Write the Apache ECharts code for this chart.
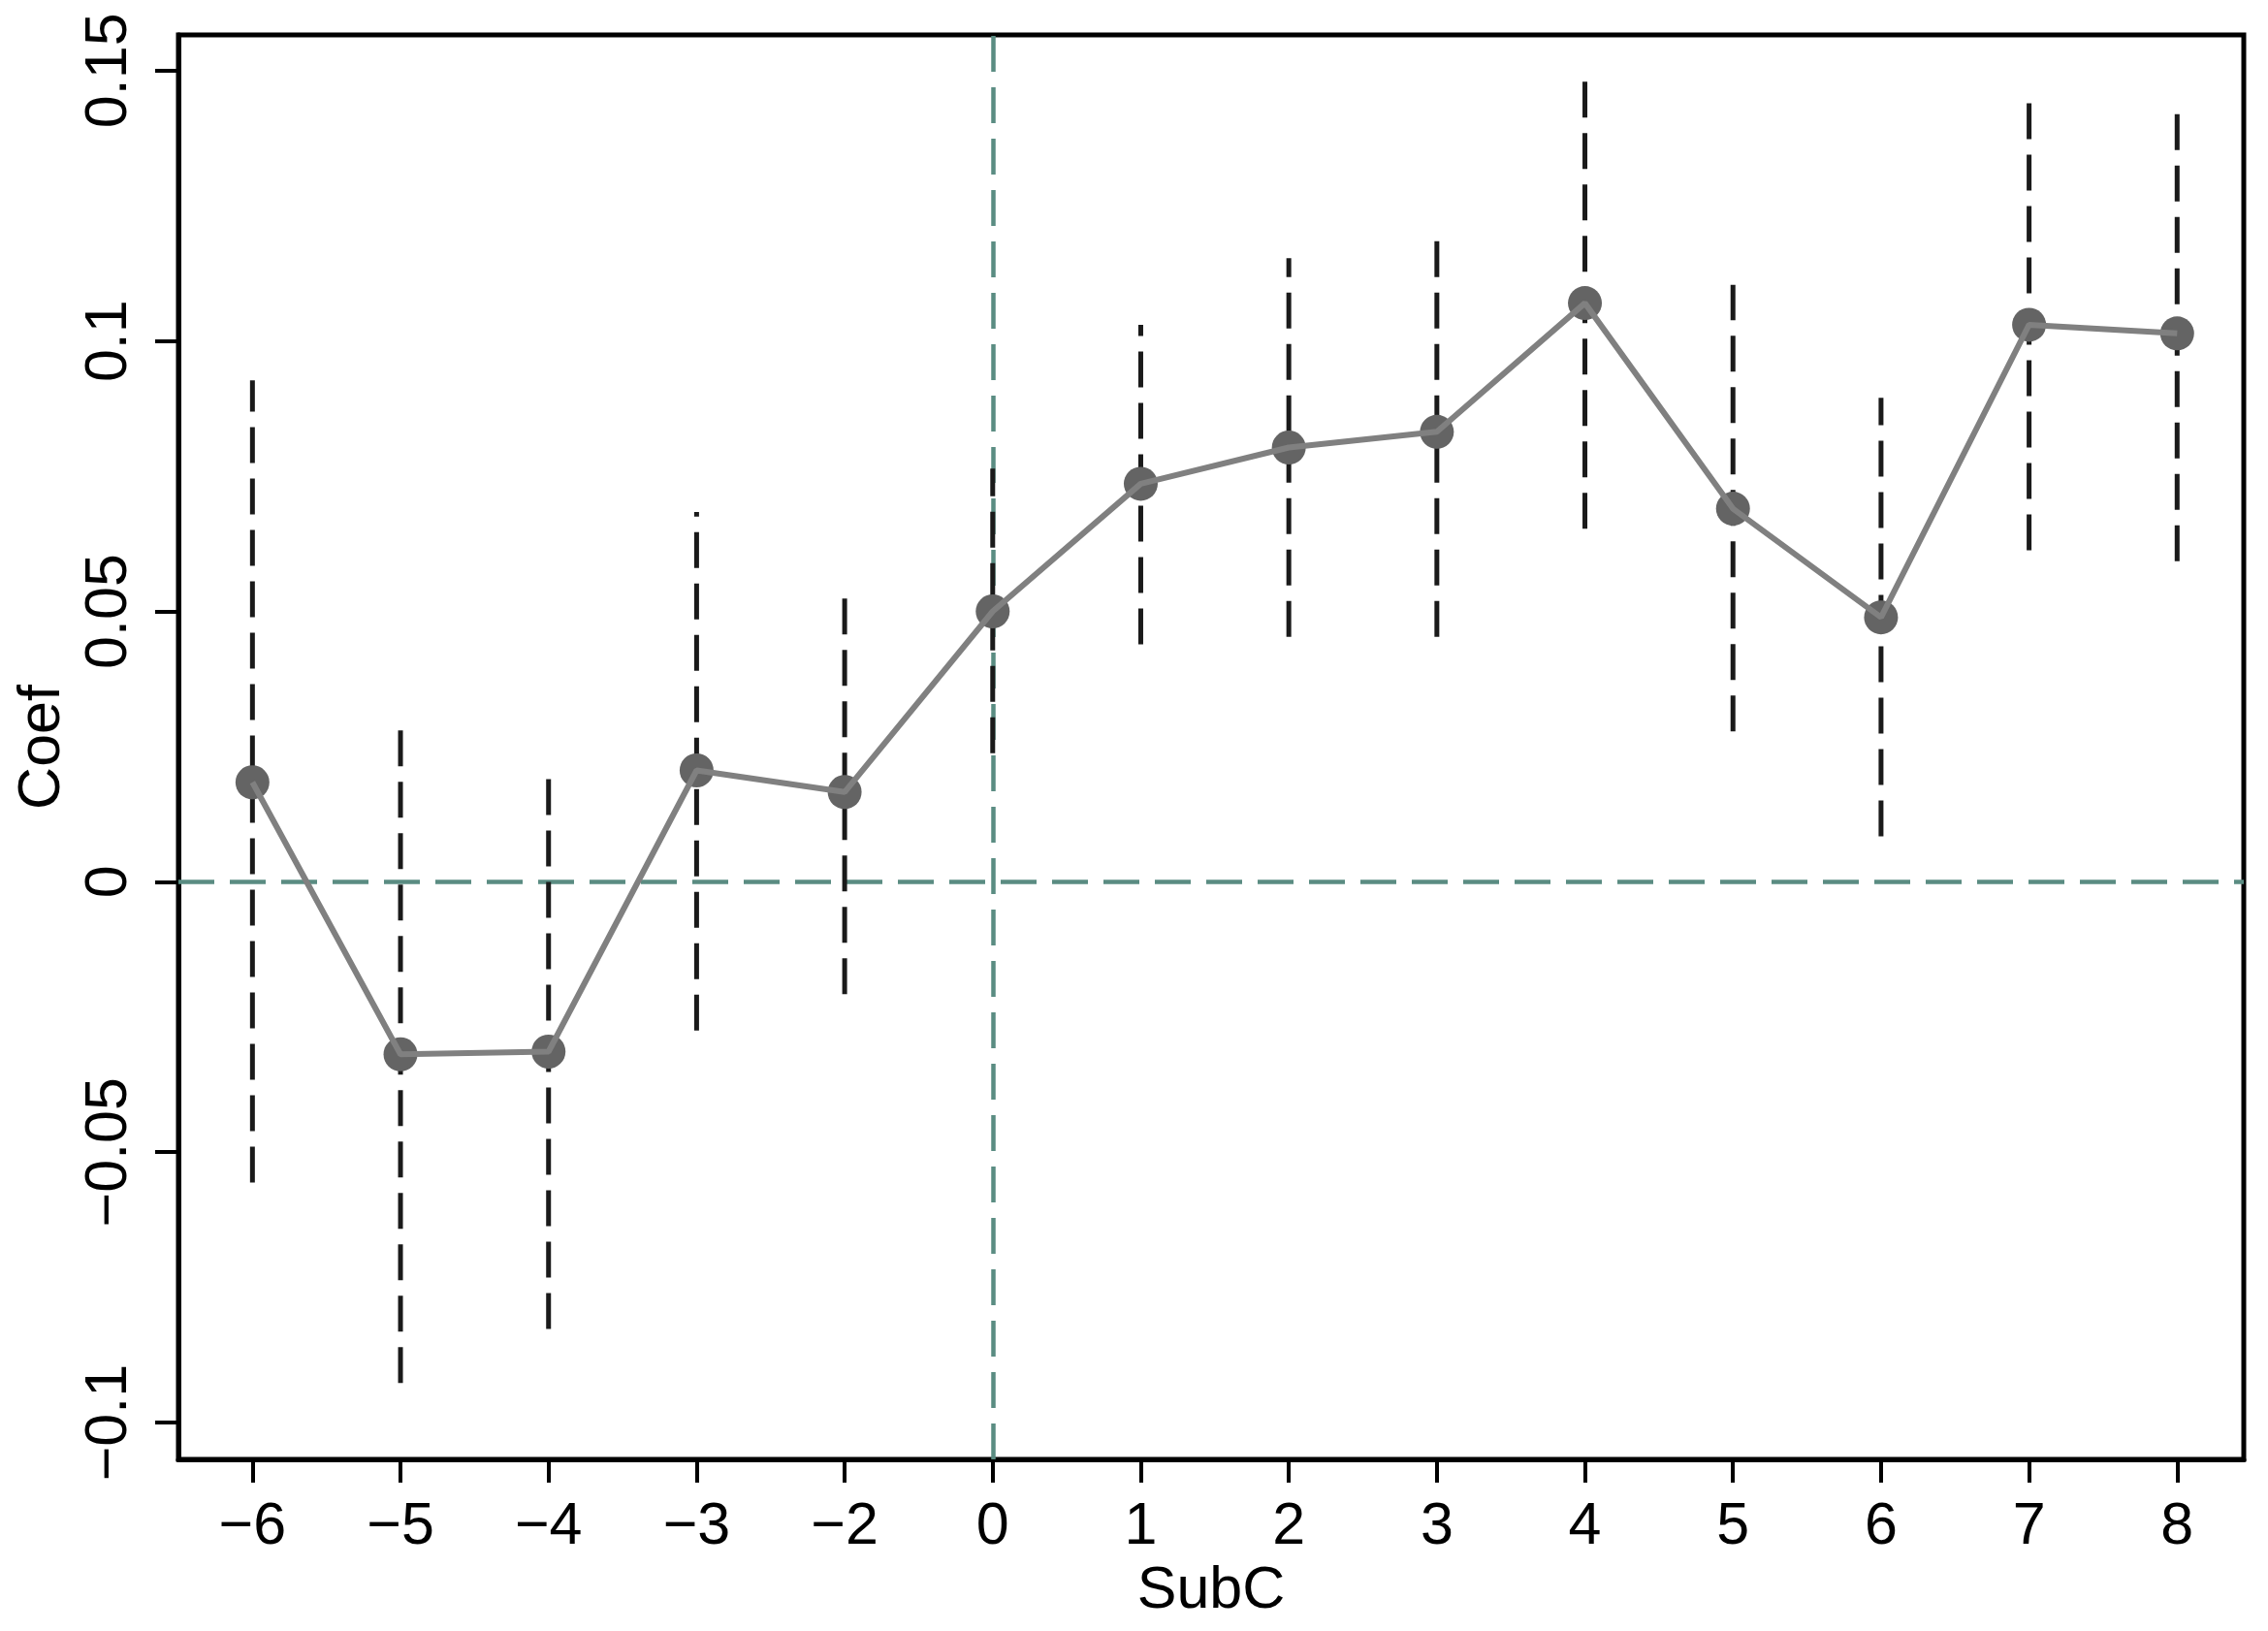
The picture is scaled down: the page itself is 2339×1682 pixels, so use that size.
<!DOCTYPE html>
<html>
<head>
<meta charset="utf-8">
<script src="https://cdn.jsdelivr.net/npm/echarts@6/dist/echarts.min.js"></script>
<style>
  html, body { margin: 0; padding: 0; background: #fff; }
  #chart { width: 2339px; height: 1682px; }
</style>
</head>
<body>
<div id="chart"></div>
<script>
// event-time categories (no -1)
var xLabels = ['\u22126', '\u22125', '\u22124', '\u22123', '\u22122', '0', '1', '2', '3', '4', '5', '6', '7', '8'];
// point estimates
var coef = [0.0184, -0.0319, -0.0314, 0.0206, 0.0166, 0.0500, 0.0736, 0.0803, 0.0832, 0.1070, 0.0690, 0.0489, 0.1030, 0.1014];
// confidence interval bounds
var ciLow = [-0.0556, -0.0927, -0.0827, -0.0275, -0.0208, 0.0238, 0.0439, 0.0453, 0.0453, 0.0653, 0.0278, 0.0084, 0.0613, 0.0593];
var ciHigh = [0.0927, 0.0286, 0.0195, 0.0684, 0.0532, 0.0764, 0.1030, 0.1153, 0.1186, 0.1483, 0.1104, 0.0895, 0.1444, 0.1424];
// y ticks
var yTicks = [-0.1, -0.05, 0, 0.05, 0.1, 0.15];
var yTickLabels = ['\u22120.1', '\u22120.05', '0', '0.05', '0.1', '0.15'];

var FONT = '"Liberation Sans", Arial, Helvetica, sans-serif';
var teal = '#5a8c82';

var xIdx = xLabels.map(function (d, i) { return i; });
var barData = xIdx.map(function (i) { return [i, ciLow[i], ciHigh[i]]; });
var pointData = xIdx.map(function (i) { return [i, coef[i]]; });

var myChart = echarts.init(document.getElementById('chart'));
var option = {
  animation: false,
  backgroundColor: '#fff',
  grid: {
    left: 184, right: 25, top: 36, bottom: 177,
    show: true, borderColor: '#000', borderWidth: 5
  },
  xAxis: {
    type: 'value',
    min: -0.5,
    max: 13.45,
    name: 'SubC',
    nameLocation: 'middle',
    nameGap: 100,
    nameTextStyle: { fontSize: 61, color: '#000', fontFamily: FONT },
    splitLine: { show: false },
    axisLine: { onZero: false, lineStyle: { color: '#000', width: 5 } },
    axisTick: { length: 24, lineStyle: { color: '#000', width: 4 }, customValues: xIdx },
    axisLabel: {
      customValues: xIdx,
      fontSize: 61, color: '#000', fontFamily: FONT, margin: 40,
      formatter: function (v) { return xLabels[Math.round(v)]; }
    }
  },
  yAxis: {
    type: 'value',
    min: -0.1068,
    max: 0.1566,
    name: 'Coef',
    nameLocation: 'middle',
    nameGap: 105,
    nameTextStyle: { fontSize: 61, color: '#000', fontFamily: FONT },
    splitLine: { show: false },
    axisLine: { onZero: false, lineStyle: { color: '#000', width: 5 } },
    axisTick: { length: 24, lineStyle: { color: '#000', width: 4 }, customValues: yTicks },
    axisLabel: {
      customValues: yTicks,
      rotate: 90,
      fontSize: 61, color: '#000', fontFamily: FONT, margin: 40,
      formatter: function (v) {
        var k = yTicks.indexOf(Math.round(v * 100) / 100);
        return k >= 0 ? yTickLabels[k] : '';
      }
    }
  },
  series: [
    {
      type: 'custom',
      name: 'ci',
      z: 2,
      data: barData,
      renderItem: function (params, api) {
        var i = api.value(0);
        var p1 = api.coord([i, api.value(1)]);
        var p2 = api.coord([i, api.value(2)]);
        return {
          type: 'line',
          shape: { x1: p1[0], y1: p1[1], x2: p2[0], y2: p2[1] },
          style: { stroke: '#1a1a1a', lineWidth: 5, lineDash: [37, 16] }
        };
      },
      markLine: {
        z: 1,
        silent: true,
        symbol: 'none',
        label: { show: false },
        lineStyle: { color: teal, width: 4.5, type: [37, 16] },
        emphasis: { disabled: true },
        data: [{ yAxis: 0 }, { xAxis: 5 }]
      }
    },
    {
      type: 'scatter',
      name: 'marker',
      z: 3,
      symbol: 'circle',
      symbolSize: 35,
      itemStyle: { color: '#646464', opacity: 1 },
      data: pointData
    },
    {
      type: 'line',
      name: 'coef',
      z: 4,
      showSymbol: false,
      lineStyle: { color: '#808080', width: 6 },
      data: pointData
    }
  ]
};
myChart.setOption(option);
</script>
</body>
</html>
